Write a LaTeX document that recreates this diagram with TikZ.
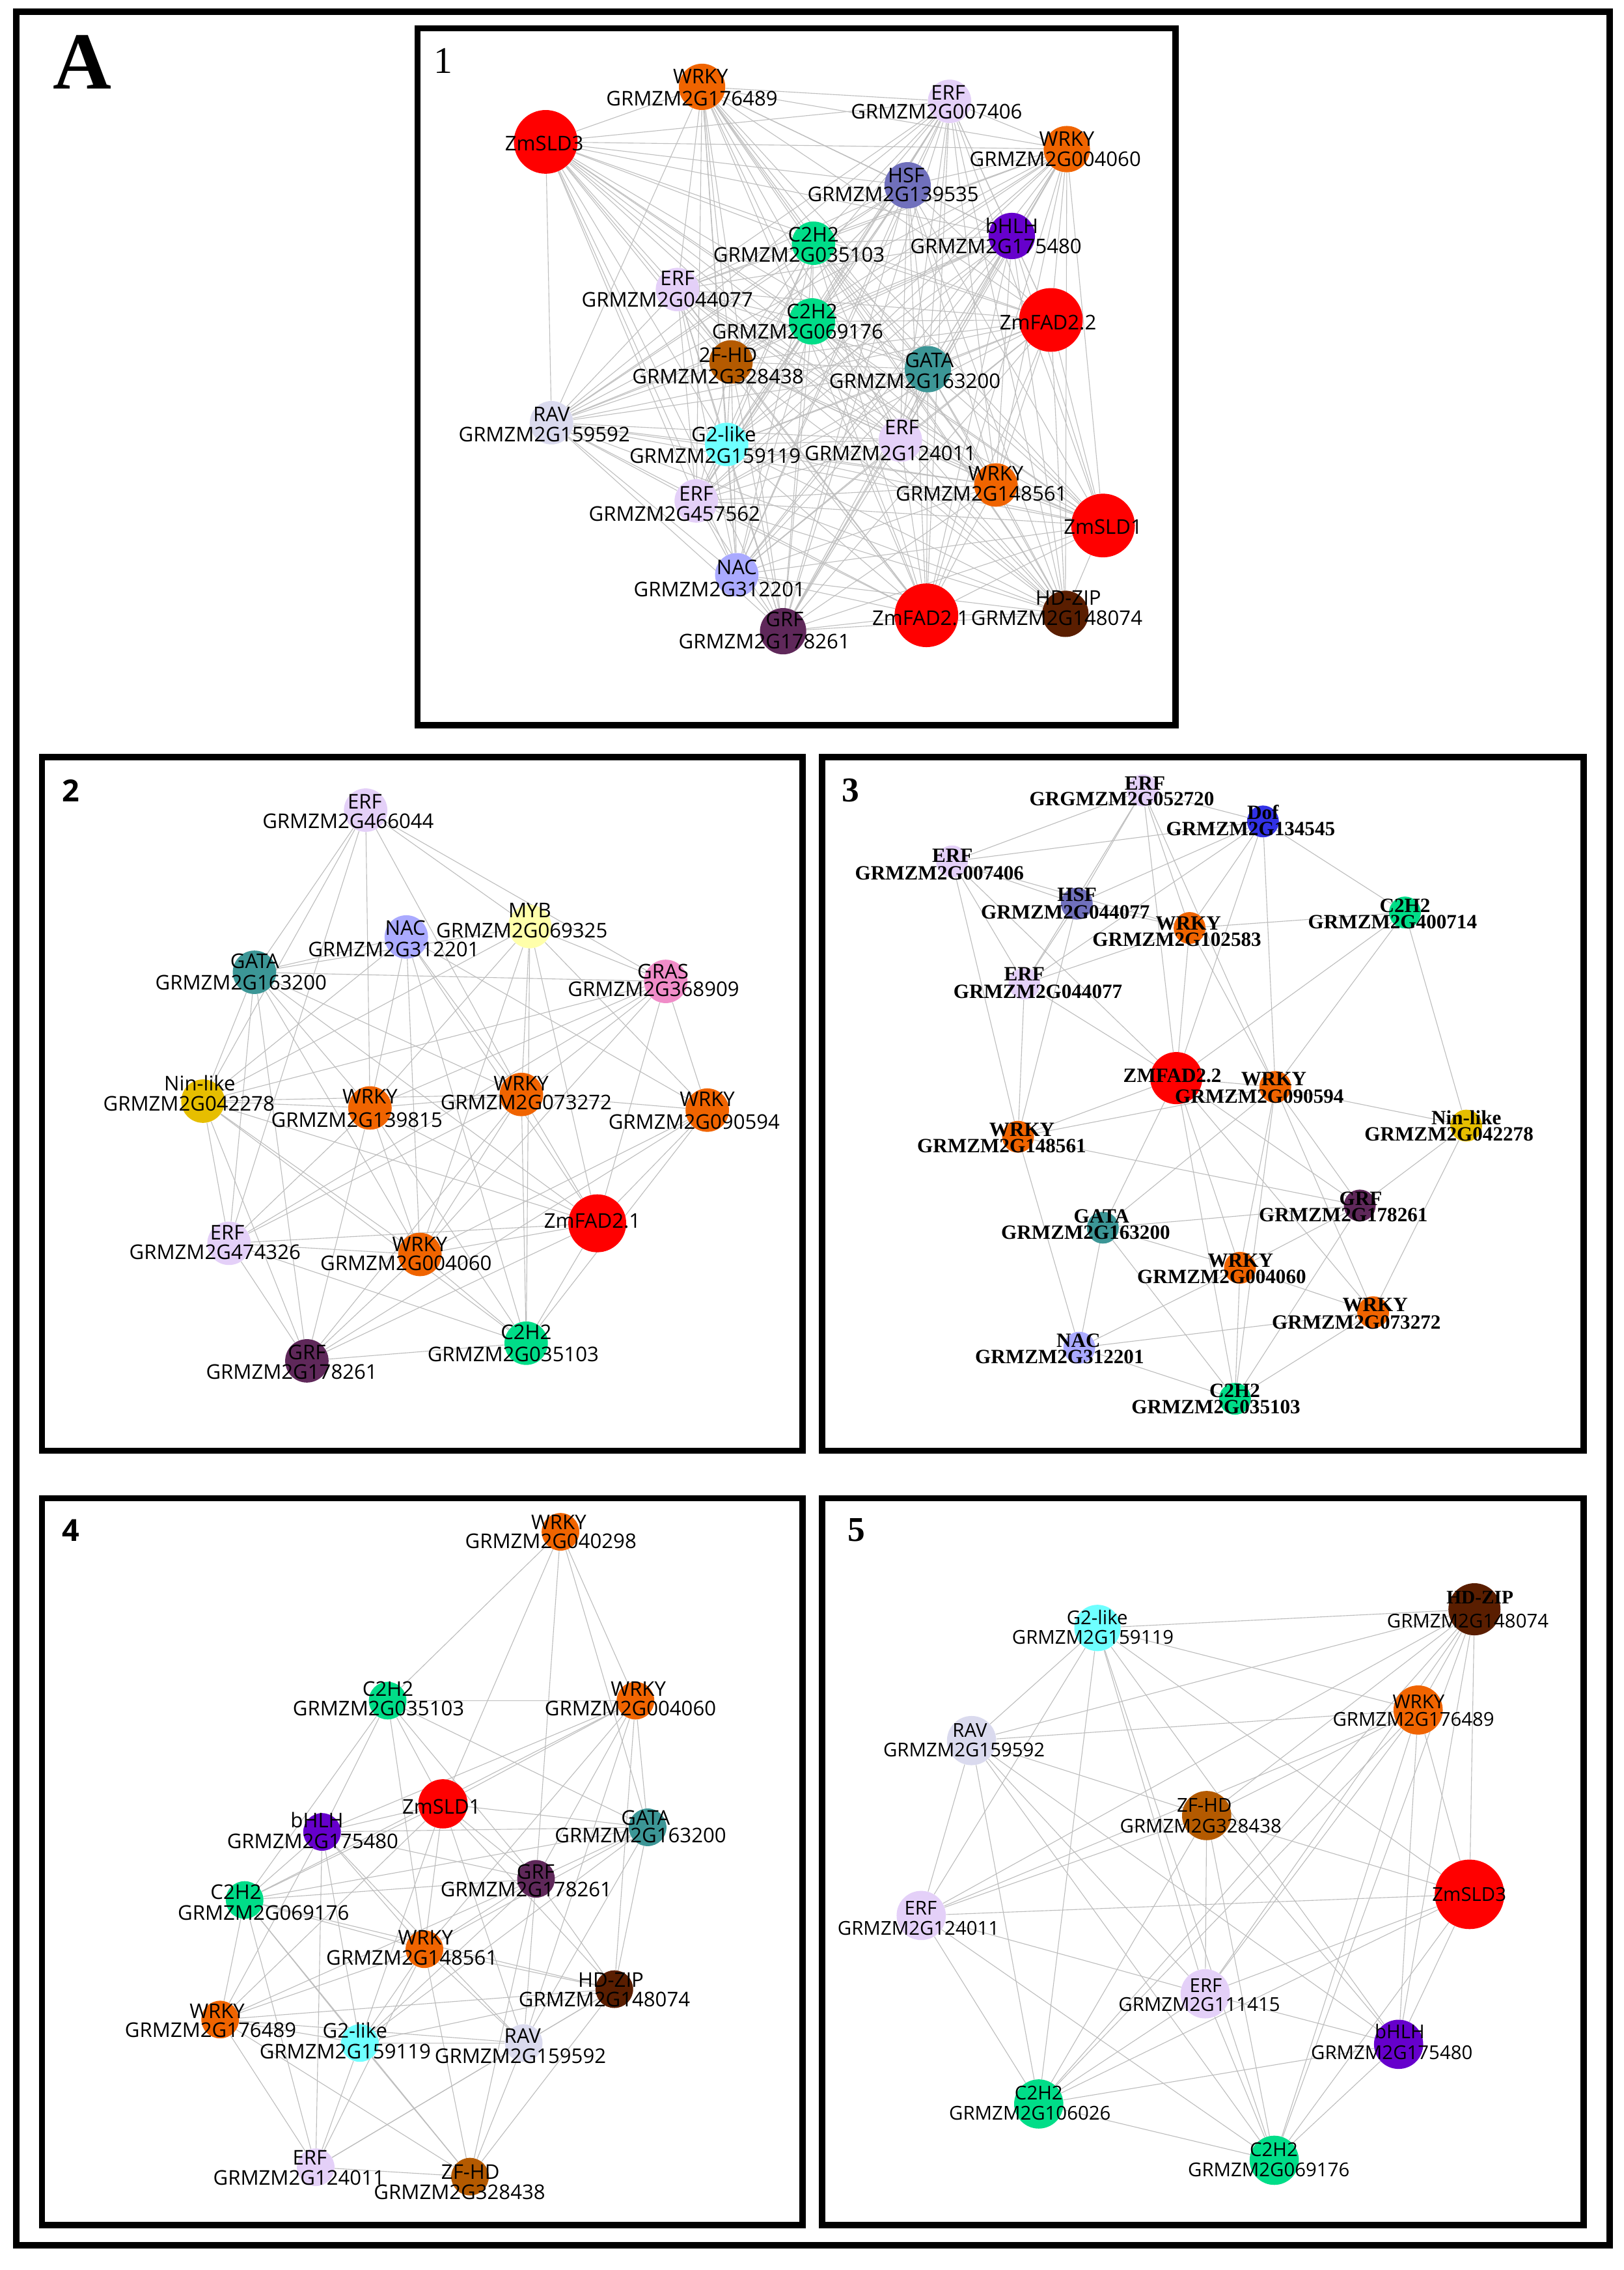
\documentclass[tikz,border=0pt]{standalone}
\usepackage{fontspec}
\setmainfont{Liberation Serif}
\newfontfamily\lsans{Open Sans}
\newfontfamily\lserif{Liberation Serif}
\pgfdeclarelayer{edges}
\pgfdeclarelayer{front}
\pgfsetlayers{edges,main,front}
\definecolor{cRed}{RGB}{255,0,0}
\definecolor{cWRKY}{RGB}{240,100,0}
\definecolor{cERF}{RGB}{228,208,248}
\definecolor{cHSF}{RGB}{112,112,188}
\definecolor{cBHLH}{RGB}{102,0,204}
\definecolor{cCtwo}{RGB}{0,221,136}
\definecolor{cZFHD}{RGB}{180,90,0}
\definecolor{cGATA}{RGB}{60,150,150}
\definecolor{cRAV}{RGB}{218,218,238}
\definecolor{cGtwo}{RGB}{110,255,255}
\definecolor{cNAC}{RGB}{170,170,255}
\definecolor{cGRF}{RGB}{95,40,90}
\definecolor{cHDZIP}{RGB}{90,30,0}
\definecolor{cMYB}{RGB}{255,255,170}
\definecolor{cGRAS}{RGB}{240,140,200}
\definecolor{cNIN}{RGB}{230,190,0}
\definecolor{cDOF}{RGB}{50,50,230}
\tikzset{
  dot/.style={circle, draw=none, inner sep=0pt},
  edgeA/.style={draw=black!25, line width=0.5pt},
  edgeB/.style={draw=black!26, line width=0.5pt},
  Lone/.style={inner sep=0pt, font=\lsans\fontsize{14}{14}\selectfont},
  Lthree/.style={inner sep=0pt, font=\lserif\bfseries\fontsize{14}{14}\selectfont},
  Lfive/.style={inner sep=0pt, font=\lsans\fontsize{13.2}{13.2}\selectfont},
  frame/.style={draw=black, line width=4.3pt},
  pnum/.style={inner sep=0pt},
}
% #1 name, #2 centre, #3 diameter, #4 colour, #5 label style, #6 type pos, #7 type, #8 gene pos, #9 gene
\newcommand\tfn[9]{%
  \node[dot, fill=#4, minimum size=#3] (#1) at (#2) {};
  \begin{pgfonlayer}{front}
    \node[#5] (#1t) at (#6) {#7};
    \node[#5] (#1g) at (#8) {#9};
  \end{pgfonlayer}}
% #1 name, #2 centre, #3 diameter, #4 label style, #5 label pos, #6 text
\newcommand\bign[6]{%
  \node[dot, fill=cRed, minimum size=#3] (#1) at (#2) {};
  \begin{pgfonlayer}{front}
    \node[#4] (#1t) at (#5) {#6};
  \end{pgfonlayer}}
\begin{document}
\begin{tikzpicture}[x=1pt,y=-1pt]
\useasboundingbox (0,0) rectangle (1121.5,1568);
\begin{pgfonlayer}{edges}
  \fill[white] (0,0) rectangle (1121.5,1568);
\end{pgfonlayer}

% ---------- frames and panel numbers ----------
\begin{pgfonlayer}{front}
  \draw[draw=black, line width=4.5pt] (11.2,8.1) rectangle (1112,1551);
  \draw[frame] (288.5,19.5) rectangle (812,501);
  \draw[frame] (29,523) rectangle (554.5,1002);
  \draw[frame] (568,523) rectangle (1094,1002);
  \draw[frame] (29,1035) rectangle (554.5,1537);
  \draw[frame] (568,1035) rectangle (1094,1537);
  \node[pnum, font=\lserif\bfseries\fontsize{56}{56}\selectfont] (lblA) at (57,43) {A};
  \node[pnum, font=\lserif\fontsize{26}{26}\selectfont] (p1) at (306,42) {1};
  \node[pnum, font=\lsans\bfseries\fontsize{21}{21}\selectfont] (p2) at (49,546) {2};
  \node[pnum, font=\lserif\bfseries\fontsize{24}{24}\selectfont] (p3) at (587.5,546) {3};
  \node[pnum, font=\lsans\bfseries\fontsize{21}{21}\selectfont] (p4) at (49,1057) {4};
  \node[pnum, font=\lserif\bfseries\fontsize{24}{24}\selectfont] (p5) at (591.5,1057) {5};
\end{pgfonlayer}

% ---------- panel 1 ----------
\bign{a1}{377,98}{44}{Lone}{376,99}{ZmSLD3}
\tfn{a2}{485,60}{32}{cWRKY}{Lone}{484,53}{WRKY}{478,68}{GRMZM2G176489}
\tfn{a3}{656,70}{30}{cERF}{Lone}{655,64}{ERF}{647,77}{GRMZM2G007406}
\tfn{a4}{737,103}{32}{cWRKY}{Lone}{737,96}{WRKY}{729,110}{GRMZM2G004060}
\tfn{a5}{627,128}{32}{cHSF}{Lone}{626,121}{HSF}{617,134}{GRMZM2G139535}
\tfn{a6}{699,163}{32}{cBHLH}{Lone}{699,156}{bHLH}{688,170}{GRMZM2G175480}
\tfn{a7}{562,168}{30}{cCtwo}{Lone}{562,162}{C2H2}{552,176}{GRMZM2G035103}
\tfn{a8}{468,200}{30}{cERF}{Lone}{468,192}{ERF}{461,207}{GRMZM2G044077}
\tfn{a9}{561,222}{32}{cCtwo}{Lone}{561,215}{C2H2}{551,229}{GRMZM2G069176}
\bign{a10}{726,221}{44}{Lone}{724,223}{ZmFAD2.2}
\tfn{a11}{505,250}{30}{cZFHD}{Lone}{503,245}{2F-HD}{496,260}{GRMZM2G328438}
\tfn{a12}{641,255}{32}{cGATA}{Lone}{642,249}{GATA}{632,263}{GRMZM2G163200}
\tfn{a13}{381,292}{30}{cRAV}{Lone}{381,286}{RAV}{376,300}{GRMZM2G159592}
\tfn{a14}{502,307}{30}{cGtwo}{Lone}{500,300}{G2-like}{494,315}{GRMZM2G159119}
\tfn{a15}{622,304}{30}{cERF}{Lone}{623,295}{ERF}{615,313}{GRMZM2G124011}
\tfn{a16}{688,335}{30}{cWRKY}{Lone}{688,327}{WRKY}{678,341}{GRMZM2G148561}
\tfn{a17}{481,346}{30}{cERF}{Lone}{481,341}{ERF}{466,355}{GRMZM2G457562}
\bign{a18}{762,363}{44}{Lone}{762,364}{ZmSLD1}
\tfn{a19}{509,397}{30}{cNAC}{Lone}{509,392}{NAC}{497,407}{GRMZM2G312201}
\tfn{a20}{541,436}{32}{cGRF}{Lone}{542,428}{GRF}{528,443}{GRMZM2G178261}
\bign{a21}{640,425}{44}{Lone}{636,427}{ZmFAD2.1}
\tfn{a22}{736,424}{32}{cHDZIP}{Lone}{738,413}{HD-ZIP}{730,427}{GRMZM2G148074}
\begin{pgfonlayer}{edges}
\foreach \i in {1,...,21}{
  \pgfmathtruncatemacro{\jstart}{\i+1}
  \foreach \j in {\jstart,...,22}{\draw[edgeA] (a\i) -- (a\j);}
}
\end{pgfonlayer}

% ---------- panel 2 ----------
\tfn{b1}{252.6,559.6}{30}{cERF}{Lone}{252,553.6}{ERF}{240.5,567}{GRMZM2G466044}
\tfn{b2}{366,640}{30}{cMYB}{Lone}{366,629}{MYB}{360.5,642.6}{GRMZM2G069325}
\tfn{b3}{280.7,647.2}{30}{cNAC}{Lone}{280,641}{NAC}{272,656}{GRMZM2G312201}
\tfn{b4}{175.8,671.6}{30}{cGATA}{Lone}{176,664}{GATA}{166.5,678.7}{GRMZM2G163200}
\tfn{b5}{459.9,677.9}{30}{cGRAS}{Lone}{458,671}{GRAS}{451.5,683.3}{GRMZM2G368909}
\tfn{b6}{140.2,760.6}{30}{cNIN}{Lone}{138,748}{Nin-like}{130.5,762.2}{GRMZM2G042278}
\tfn{b7}{255.6,765.3}{30}{cWRKY}{Lone}{255.6,757.6}{WRKY}{246.5,773.5}{GRMZM2G139815}
\tfn{b8}{360.2,756}{30}{cWRKY}{Lone}{360,748.4}{WRKY}{363.5,761.3}{GRMZM2G073272}
\tfn{b9}{488.6,766.8}{30}{cWRKY}{Lone}{488.6,759}{WRKY}{479.5,775.1}{GRMZM2G090594}
\bign{b10}{412.6,845}{40}{Lone}{409.2,843.5}{ZmFAD2.1}
\tfn{b11}{158.2,858.8}{30}{cERF}{Lone}{157,851.2}{ERF}{148.5,865}{GRMZM2G474326}
\tfn{b12}{290.1,866.5}{30}{cWRKY}{Lone}{290,859.7}{WRKY}{280.5,872.6}{GRMZM2G004060}
\tfn{b13}{363.5,927.8}{30}{cCtwo}{Lone}{363.5,920}{C2H2}{354.5,935.4}{GRMZM2G035103}
\tfn{b14}{212,940}{30}{cGRF}{Lone}{212,934}{GRF}{201.5,947.8}{GRMZM2G178261}
\begin{pgfonlayer}{edges}
\foreach \a/\b in {b1/b4,b1/b6,b1/b11,b1/b7,b1/b8,b1/b2,b1/b5,
  b2/b4,b2/b5,b2/b8,b2/b7,b2/b6,b2/b13,b2/b12,b2/b10,b2/b9,
  b3/b4,b3/b7,b3/b8,b3/b10,b3/b9,b3/b13,b3/b12,b3/b6,
  b4/b5,b4/b6,b4/b7,b4/b8,b4/b12,b4/b10,b4/b11,b4/b14,
  b5/b7,b5/b8,b5/b6,b5/b9,b5/b10,b5/b12,b5/b11,
  b6/b7,b6/b8,b6/b11,b6/b14,b6/b12,b6/b13,b6/b10,
  b7/b8,b7/b12,b7/b14,b7/b13,b7/b11,b7/b10,
  b8/b9,b8/b10,b8/b13,b8/b12,b8/b11,b8/b14,
  b9/b10,b9/b12,b9/b14,b9/b13,
  b10/b13,b10/b12,b10/b11,b10/b14,
  b11/b12,b11/b14,b11/b13,
  b12/b14,b12/b13,b14/b13}
  {\draw[edgeB] (\a) -- (\b);}
\end{pgfonlayer}

% ---------- panel 3 ----------
\tfn{c1}{789.6,546}{22}{cERF}{Lthree}{791,541}{ERF}{775,552}{GRGMZM2G052720}
\tfn{c2}{872.5,567.4}{22}{cDOF}{Lthree}{872.5,561}{Dof}{864,572.5}{GRMZM2G134545}
\tfn{c3}{657.7,595}{22}{cERF}{Lthree}{658,591}{ERF}{649,603}{GRMZM2G007406}
\tfn{c4}{743.9,624.2}{22}{cHSF}{Lthree}{744,618}{HSF}{736,630}{GRMZM2G044077}
\tfn{c5}{821.8,641}{22}{cWRKY}{Lthree}{821,638}{WRKY}{813,649}{GRMZM2G102583}
\tfn{c6}{970.6,630.3}{22}{cCtwo}{Lthree}{970.6,625.5}{C2H2}{962,636.8}{GRMZM2G400714}
\tfn{c7}{707.7,679.4}{22}{cERF}{Lthree}{707.7,673}{ERF}{717,685}{GRMZM2G044077}
\bign{c8}{812.6,744.7}{36}{Lthree}{809.9,743}{ZMFAD2.2}
\tfn{c9}{881,750.8}{22}{cWRKY}{Lthree}{880,745.5}{WRKY}{870,757.3}{GRMZM2G090594}
\tfn{c10}{1012.9,777.5}{22}{cNIN}{Lthree}{1013,772}{Nin-like}{1001,783.5}{GRMZM2G042278}
\tfn{c11}{703.3,785.2}{22}{cWRKY}{Lthree}{706,780.3}{WRKY}{692,791.6}{GRMZM2G148561}
\tfn{c12}{939.4,832.7}{22}{cGRF}{Lthree}{940,828}{GRF}{928,839.2}{GRMZM2G178261}
\tfn{c13}{761.9,848}{22}{cGATA}{Lthree}{761,840}{GATA}{750,851.5}{GRMZM2G163200}
\tfn{c14}{856.6,875.7}{22}{cWRKY}{Lthree}{857,871}{WRKY}{844,882}{GRMZM2G004060}
\tfn{c15}{948.6,906.4}{22}{cWRKY}{Lthree}{950,901.5}{WRKY}{937,913.3}{GRMZM2G073272}
\tfn{c16}{745.6,930.9}{22}{cNAC}{Lthree}{745,926}{NAC}{732,937.3}{GRMZM2G312201}
\tfn{c17}{853.2,966.2}{22}{cCtwo}{Lthree}{853,960.5}{C2H2}{840,972}{GRMZM2G035103}
\begin{pgfonlayer}{edges}
\foreach \a/\b in {c1/c3,c1/c4,c1/c2,c1/c5,c1/c8,c1/c9,c1/c7,
  c2/c3,c2/c4,c2/c5,c2/c6,c2/c8,c2/c9,c2/c7,
  c3/c4,c3/c7,c3/c11,c3/c8,c3/c5,
  c4/c7,c4/c11,c4/c5,
  c5/c6,c5/c8,c5/c9,c5/c7,
  c6/c10,c6/c8,c6/c9,
  c7/c8,c7/c11,
  c8/c11,c8/c9,c8/c13,c8/c14,c8/c17,c8/c12,c8/c15,
  c9/c10,c9/c12,c9/c13,c9/c14,c9/c15,c9/c17,c9/c11,
  c10/c12,c10/c15,
  c11/c12,c11/c16,
  c12/c13,c12/c14,c12/c17,
  c13/c14,c13/c16,c13/c17,
  c14/c16,c14/c15,c14/c17,
  c15/c17,c15/c16,c16/c17}
  {\draw[edgeB] (\a) -- (\b);}
\end{pgfonlayer}

% ---------- panel 4 ----------
\tfn{d1}{387.2,1058.1}{26}{cWRKY}{Lone}{386,1051.6}{WRKY}{380.5,1064.6}{GRMZM2G040298}
\tfn{d2}{267.8,1174.7}{26}{cCtwo}{Lone}{268,1166.6}{C2H2}{261.5,1180.2}{GRMZM2G035103}
\tfn{d3}{439,1174.7}{26}{cWRKY}{Lone}{441,1166.6}{WRKY}{435.5,1180.2}{GRMZM2G004060}
\bign{d4}{306,1246}{34}{Lone}{305,1247.8}{ZmSLD1}
\tfn{d5}{222.5,1265.4}{26}{cBHLH}{Lone}{219,1257.3}{bHLH}{216,1271.9}{GRMZM2G175480}
\tfn{d6}{447.4,1262.2}{26}{cGATA}{Lone}{446,1255.7}{GATA}{442.5,1267.7}{GRMZM2G163200}
\tfn{d7}{370.3,1297.8}{26}{cGRF}{Lone}{370,1292.9}{GRF}{363.5,1305.3}{GRMZM2G178261}
\tfn{d8}{169,1312.4}{26}{cCtwo}{Lone}{163,1306.9}{C2H2}{182,1321.1}{GRMZM2G069176}
\tfn{d9}{293.2,1346.4}{26}{cWRKY}{Lone}{294,1338.3}{WRKY}{284.5,1352.2}{GRMZM2G148561}
\tfn{d10}{424.4,1374}{26}{cHDZIP}{Lone}{422,1367.5}{HD-ZIP}{417.5,1381.1}{GRMZM2G148074}
\tfn{d11}{152.1,1395}{26}{cWRKY}{Lone}{150,1389.2}{WRKY}{145.5,1402.4}{GRMZM2G176489}
\tfn{d12}{248.6,1411.2}{26}{cGtwo}{Lone}{245.2,1402.4}{G2-like}{238.5,1417}{GRMZM2G159119}
\tfn{d13}{361.8,1411.2}{26}{cRAV}{Lone}{361,1406.4}{RAV}{359.5,1420}{GRMZM2G159592}
\tfn{d14}{218.1,1497}{26}{cERF}{Lone}{214,1490.5}{ERF}{206.5,1504.1}{GRMZM2G124011}
\tfn{d15}{324.7,1503.5}{26}{cZFHD}{Lone}{325,1500.3}{ZF-HD}{317.5,1514.2}{GRMZM2G328438}
\begin{pgfonlayer}{edges}
\foreach \a/\b in {d1/d2,d1/d3,d1/d6,d1/d4,d1/d7,
  d2/d3,d2/d4,d2/d5,d2/d8,d2/d9,d2/d7,d2/d6,
  d3/d4,d3/d5,d3/d7,d3/d6,d3/d10,d3/d13,d3/d9,d3/d8,
  d4/d5,d4/d6,d4/d7,d4/d8,d4/d9,d4/d10,d4/d12,d4/d13,d4/d11,
  d5/d8,d5/d7,d5/d9,d5/d11,d5/d12,d5/d13,d5/d14,d5/d6,
  d6/d7,d6/d8,d6/d10,d6/d9,d6/d13,d6/d12,
  d7/d8,d7/d9,d7/d10,d7/d13,d7/d12,d7/d11,d7/d15,
  d8/d11,d8/d12,d8/d9,d8/d14,d8/d15,d8/d10,
  d9/d11,d9/d12,d9/d13,d9/d10,d9/d14,d9/d15,
  d10/d11,d10/d12,d10/d13,d10/d15,d10/d14,
  d11/d12,d11/d13,d11/d14,d11/d15,
  d12/d13,d12/d14,d12/d15,
  d13/d14,d13/d15,d14/d15}
  {\draw[edgeB] (\a) -- (\b);}
\end{pgfonlayer}

% ---------- panel 5 ----------
\tfn{e1}{1018.6,1111.6}{36}{cHDZIP}{Lfive}{1022.4,1103.5}{\lserif\bfseries HD-ZIP}{1014,1119.6}{GRMZM2G148074}
\tfn{e2}{758.2,1124.5}{32}{cGtwo}{Lfive}{758,1117.4}{G2-like}{755,1131}{GRMZM2G159119}
\tfn{e3}{979.7,1181.2}{34}{cWRKY}{Lfive}{980,1175.4}{WRKY}{976.5,1187.7}{GRMZM2G176489}
\tfn{e4}{671.2,1202.3}{34}{cRAV}{Lfive}{670,1195.1}{RAV}{666,1208.8}{GRMZM2G159592}
\tfn{e5}{833.6,1254.1}{34}{cZFHD}{Lfive}{832,1247}{ZF-HD}{829.5,1261.2}{GRMZM2G328438}
\bign{e6}{1015.2,1308.5}{48}{Lfive}{1015,1308.5}{ZmSLD3}
\tfn{e7}{636.4,1323.1}{34}{cERF}{Lfive}{636,1318.2}{ERF}{634.5,1331.8}{GRMZM2G124011}
\tfn{e8}{832.6,1377.2}{34}{cERF}{Lfive}{833,1371.4}{ERF}{828.5,1384.3}{GRMZM2G111415}
\tfn{e9}{966.2,1412.1}{34}{cBHLH}{Lfive}{967,1403.1}{bHLH}{961.5,1417.7}{GRMZM2G175480}
\tfn{e10}{717.6,1453.3}{34}{cCtwo}{Lfive}{717.6,1445.9}{C2H2}{711.5,1459.8}{GRMZM2G106026}
\tfn{e11}{880.3,1492.2}{34}{cCtwo}{Lfive}{880,1484.7}{C2H2}{876.5,1498.7}{GRMZM2G069176}
\begin{pgfonlayer}{edges}
\foreach \a/\b in {e2/e1,e2/e3,e2/e4,e2/e7,e2/e10,e2/e8,e2/e9,e2/e6,e2/e11,
  e1/e4,e1/e3,e1/e5,e1/e6,e1/e8,e1/e9,e1/e11,e1/e10,e1/e7,
  e3/e4,e3/e5,e3/e6,e3/e7,e3/e8,e3/e9,e3/e11,e3/e10,
  e4/e5,e4/e7,e4/e10,e4/e8,e4/e9,e4/e11,
  e5/e6,e5/e7,e5/e8,e5/e11,e5/e9,e5/e10,
  e6/e7,e6/e8,e6/e9,e6/e11,e6/e10,
  e7/e8,e7/e10,e7/e11,
  e8/e9,e8/e11,e8/e10,
  e9/e10,e9/e11,e10/e11}
  {\draw[edgeB] (\a) -- (\b);}
\end{pgfonlayer}
\end{tikzpicture}
\end{document}
